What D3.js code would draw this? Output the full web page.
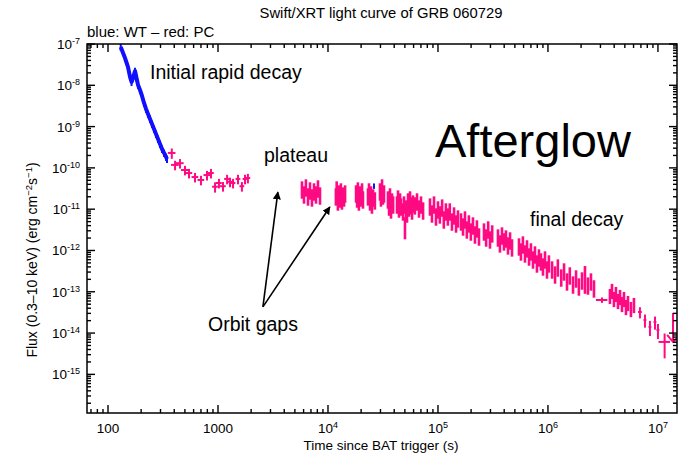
<!DOCTYPE html>
<html><head><meta charset="utf-8">
<script src="https://cdn.jsdelivr.net/npm/d3@7"></script>
<style>body{margin:0;background:#fff}svg{display:block}text{font-family:"Liberation Sans",Arial,Helvetica,sans-serif;fill:#000}</style>
</head><body><svg id="c" width="681" height="455"></svg>
<script>
const titleText = "Swift/XRT light curve of GRB 060729";
const subtitleText = "blue: WT \u2013 red: PC";
const xTickValues = [100, 1000, 1e4, 1e5, 1e6, 1e7];
const xTickBase = ["100", "1000", "10", "10", "10", "10"];
const xTickExp = ["", "", "4", "5", "6", "7"];
const yTickValues = [1e-7, 1e-8, 1e-9, 1e-10, 1e-11, 1e-12, 1e-13, 1e-14, 1e-15];
const yTickExp = ["-7", "-8", "-9", "-10", "-11", "-12", "-13", "-14", "-15"];

// WT mode (blue): time (s), flux (erg cm^-2 s^-1)
const wtTime = [130.5, 142.7, 152.0, 158.5, 163.6, 168.8, 176.0, 181.6, 187.4, 195.4, 203.8, 212.5, 221.6, 231.0, 240.9, 251.2, 261.9, 273.1, 284.8, 297.0, 309.7, 322.9, 336.7, 343.9];
const wtFlux = [8.46e-8, 4.58e-8, 2.77e-8, 1.59e-8, 1.20e-8, 1.50e-8, 2.22e-8, 1.50e-8, 1.02e-8, 7.69e-9, 5.51e-9, 3.73e-9, 2.67e-9, 2.02e-9, 1.53e-9, 1.16e-9, 8.75e-10, 6.62e-10, 5.01e-10, 3.79e-10, 2.87e-10, 2.30e-10, 1.84e-10, 1.64e-10];
const wtLateTime = [26200];
const wtLateFlux = [3.65e-11];

// PC mode (red): [time, flux, relative time error, relative flux error]
const pcPoints = [
  [380,2.3e-10,0.08,0.28],[407,1.18e-10,0.08,0.26],[451,1.3e-10,0.08,0.26],[501,8.9e-11,0.08,0.26],
  [545,7.5e-11,0.07,0.26],[618,6.0e-11,0.07,0.26],[700,5.1e-11,0.07,0.26],[794,6.7e-11,0.07,0.26],
  [863,7.5e-11,0.06,0.26],[940,3.5e-11,0.06,0.28],[1020,4.3e-11,0.06,0.26],[1110,3.6e-11,0.06,0.26],
  [1210,5.4e-11,0.06,0.26],[1285,4.6e-11,0.05,0.26],[1370,4.3e-11,0.05,0.26],[1520,5.4e-11,0.05,0.26],
  [1650,3.6e-11,0.05,0.26],[1760,5.4e-11,0.05,0.26],[1870,5.7e-11,0.05,0.26],
  [5800,3.26e-11,0.01,0.45],[6050,2.47e-11,0.01,0.45],[6300,3.65e-11,0.01,0.45],[6580,2.21e-11,0.01,0.45],[6860,3.08e-11,0.01,0.45],
  [7150,2.09e-11,0.01,0.45],[7460,2.92e-11,0.01,0.45],[7780,2.47e-11,0.01,0.45],[8110,3.45e-11,0.01,0.45],[8460,2.33e-11,0.01,0.45],
  [11800,2.21e-11,0.01,0.45],[12000,3.26e-11,0.01,0.45],[12300,1.67e-11,0.01,0.45],[12600,2.61e-11,0.01,0.45],[12900,1.97e-11,0.01,0.45],
  [13100,2.92e-11,0.01,0.45],[13400,1.77e-11,0.01,0.45],[13700,2.33e-11,0.01,0.45],[14000,2.09e-11,0.01,0.45],[14300,2.61e-11,0.01,0.45],
  [18000,2.61e-11,0.01,0.45],[18400,1.97e-11,0.01,0.45],[18700,3.08e-11,0.01,0.45],[19100,1.67e-11,0.01,0.45],[19500,2.47e-11,0.01,0.45],
  [20000,2.09e-11,0.01,0.45],[20400,2.92e-11,0.01,0.45],[20800,1.87e-11,0.01,0.45],
  [23100,2.21e-11,0.01,0.45],[23600,2.92e-11,0.01,0.45],[24100,1.67e-11,0.01,0.45],[24600,2.47e-11,0.01,0.45],[25100,1.41e-11,0.01,0.45],
  [25700,2.09e-11,0.01,0.45],[26700,1.77e-11,0.01,0.45],
  [29700,2.92e-11,0.01,0.45],[30300,2.09e-11,0.01,0.45],[31000,3.65e-11,0.01,0.45],[31600,2.33e-11,0.01,0.45],[32300,2.61e-11,0.01,0.45],
  [35100,1.87e-11,0.01,0.45],[35900,1.26e-11,0.01,0.45],[36600,2.21e-11,0.01,0.45],[37400,1.07e-11,0.01,0.45],[38200,1.67e-11,0.01,0.45],[39100,1.41e-11,0.01,0.45],
  [42400,1.41e-11,0.01,0.45],[43300,1.97e-11,0.01,0.45],[44200,1.13e-11,0.01,0.45],[45200,1.67e-11,0.01,0.45],[46100,1.26e-11,0.01,0.45],
  [48100,9.57e-12,0.01,0.45],[49100,1.41e-11,0.01,0.45],[50100,4.14e-12,0.01,0.55],[51200,1.13e-11,0.01,0.45],[52300,8.55e-12,0.01,0.45],
  [53400,1.67e-11,0.01,0.45],[54500,1.19e-11,0.01,0.45],[55700,1.87e-11,0.01,0.45],[56900,1.34e-11,0.01,0.45],[58100,1.01e-11,0.01,0.45],[59300,1.49e-11,0.01,0.45],
  [61700,1.34e-11,0.01,0.45],[64500,1.67e-11,0.01,0.45],[67200,1.13e-11,0.01,0.45],[70100,1.41e-11,0.01,0.45],[73200,1.01e-11,0.01,0.45],
  [84600,1.26e-11,0.01,0.45],[88200,8.55e-12,0.01,0.45],[92000,1.41e-11,0.01,0.45],[95900,7.24e-12,0.01,0.45],[100000,1.07e-11,0.01,0.45],
  [104000,8.1e-12,0.01,0.45],[109000,1.19e-11,0.01,0.45],[113000,6.12e-12,0.01,0.45],[118000,9.57e-12,0.01,0.45],
  [123000,7.24e-12,0.01,0.45],[128000,9.57e-12,0.01,0.45],[134000,5.47e-12,0.01,0.45],[140000,7.65e-12,0.01,0.45],[146000,4.9e-12,0.01,0.45],[152000,6.47e-12,0.01,0.45],
  [162000,5.47e-12,0.01,0.45],[169000,4.14e-12,0.01,0.45],[176000,6.12e-12,0.01,0.45],[183000,3.51e-12,0.01,0.45],[191000,4.9e-12,0.01,0.45],
  [199000,3.13e-12,0.01,0.45],[208000,4.38e-12,0.01,0.45],[217000,2.65e-12,0.01,0.45],[226000,3.71e-12,0.01,0.45],[236000,2.37e-12,0.01,0.45],
  [262000,3.13e-12,0.01,0.45],[274000,2.24e-12,0.01,0.45],[286000,3.51e-12,0.01,0.45],[297000,2.01e-12,0.01,0.45],[311000,2.81e-12,0.01,0.45],
  [351000,2.24e-12,0.01,0.45],[366000,1.61e-12,0.01,0.45],[382000,2.51e-12,0.01,0.45],[398000,1.80e-12,0.01,0.45],[415000,2.12e-12,0.01,0.45],
  [433000,1.44e-12,0.01,0.45],[452000,1.90e-12,0.01,0.45],[471000,1.29e-12,0.01,0.45],
  [545000,1.36e-12,0.01,0.45],[568000,1.03e-12,0.01,0.45],[592000,1.52e-12,0.01,0.45],[618000,9.2e-13,0.01,0.45],[645000,1.22e-12,0.01,0.45],
  [673000,7.78e-13,0.01,0.45],[700000,1.03e-12,0.01,0.45],[731000,6.58e-13,0.01,0.45],[762000,8.7e-13,0.01,0.45],[794000,5.27e-13,0.01,0.45],
  [828000,7.36e-13,0.01,0.45],[864000,5.89e-13,0.01,0.45],[901000,4.45e-13,0.01,0.45],[940000,6.58e-13,0.01,0.45],[980000,3.77e-13,0.01,0.45],[1020000,5.27e-13,0.01,0.45],
  [1090000,3.77e-13,0.01,0.45],[1160000,2.85e-13,0.01,0.45],[1230000,4.21e-13,0.01,0.45],[1320000,2.41e-13,0.01,0.45],[1400000,3.37e-13,0.01,0.45],
  [1490000,1.93e-13,0.01,0.45],[1580000,2.70e-13,0.01,0.45],[1690000,1.63e-13,0.01,0.45],[1800000,2.28e-13,0.01,0.45],[1910000,1.46e-13,0.01,0.45],
  [2040000,2.04e-13,0.01,0.45],[2170000,2.55e-13,0.01,0.65],[2310000,1.54e-13,0.01,0.45],[2460000,1.93e-13,0.01,0.45],[2620000,1.31e-13,0.01,0.45],
  [3100000,6.33e-14,0.12,0.15],
  [3660000,8.37e-14,0.02,0.4],[3820000,1.11e-13,0.02,0.4],[3980000,7.08e-14,0.02,0.4],[4150000,9.36e-14,0.02,0.4],[4330000,6.33e-14,0.02,0.4],
  [4520000,7.91e-14,0.02,0.4],[4710000,5.36e-14,0.02,0.4],[4910000,7.08e-14,0.02,0.4],[5120000,4.53e-14,0.02,0.4],[5340000,5.66e-14,0.02,0.4],
  [5680000,4.05e-14,0.02,0.4],[6050000,5.07e-14,0.02,0.4],
  [6860000,3.24e-14,0.04,0.3],[7620000,2.08e-14,0.03,0.35],[8460000,1.41e-14,0.03,0.4],[9400000,1.86e-14,0.03,0.35],[10000000,1.19e-14,0.03,0.4],
  [11500000,6.1e-15,0.12,0.6]
];
// PC upper limit
const ulTime = [13700000];
const ulFlux = [3.07e-14];

const svg = d3.select("#c");
const L = 87, R = 677, T = 44, B = 413;
const x = d3.scaleLog().domain([64.4, 1.49e7]).range([L, R]);
const y = d3.scaleLog().domain([1.16e-16, 1e-7]).range([B, T]);
const BLUE = "#1010ff", PINK = "#ff0a82";

svg.append("defs").append("clipPath").attr("id", "clip")
  .append("rect").attr("x", L).attr("y", T).attr("width", R - L).attr("height", B - T);
const arrowDef = svg.select("defs").append("marker").attr("id", "ah")
  .attr("viewBox", "0 0 10 10").attr("refX", 9).attr("refY", 5)
  .attr("markerWidth", 8).attr("markerHeight", 8).attr("orient", "auto")
  .attr("markerUnits", "userSpaceOnUse");
arrowDef.append("path").attr("d", "M0,0 L10,5 L0,10 z").attr("fill", "#000");

svg.append("text").attr("x", 381).attr("y", 18).attr("text-anchor", "middle")
  .style("font-size", "14.8px").text(titleText);
svg.append("text").attr("x", 87).attr("y", 37).style("font-size", "15px").text(subtitleText);

const g = svg.append("g").attr("clip-path", "url(#clip)");
const pc = g.append("g").attr("stroke", PINK).attr("stroke-width", 2).attr("fill", "none");
pcPoints.forEach(([t, f, rt, rf]) => {
  const sw = rt <= 0.02 ? 2.6 : 2;
  pc.append("line").attr("x1", x(t * (1 - rt))).attr("x2", x(t * (1 + rt))).attr("y1", y(f)).attr("y2", y(f)).attr("stroke-width", 2);
  pc.append("line").attr("x1", x(t)).attr("x2", x(t)).attr("y1", y(f * (1 - rf))).attr("y2", y(f * (1 + rf))).attr("stroke-width", sw);
});
ulTime.forEach((t, i) => {
  const f = ulFlux[i];
  pc.append("line").attr("x1", x(t)).attr("x2", x(t)).attr("y1", y(f)).attr("y2", y(f / 5));
  pc.append("path").attr("d", `M${x(t / 1.13)},${y(f / 3.4)} L${x(t)},${y(f / 5)} L${x(t * 1.18)},${y(f / 3.4)}`);
});
const wtPts = wtTime.map((t, i) => [t, wtFlux[i]]);
g.append("path").datum(wtPts)
  .attr("d", d3.line().x(d => x(d[0])).y(d => y(d[1])))
  .attr("fill", "none").attr("stroke", BLUE).attr("stroke-width", 4).attr("stroke-linejoin", "round");
const wtg = g.append("g").attr("stroke", BLUE).attr("stroke-width", 2);
wtPts.forEach(([t, f]) => {
  wtg.append("line").attr("x1", x(t)).attr("x2", x(t)).attr("y1", y(f * 0.8)).attr("y2", y(f * 1.2));
});
wtLateTime.forEach((t, i) => {
  wtg.append("line").attr("x1", x(t)).attr("x2", x(t)).attr("y1", y(wtLateFlux[i] * 0.85)).attr("y2", y(wtLateFlux[i] * 1.15)).attr("stroke-width", 2);
});

const ax = svg.append("g").attr("stroke", "#000");
ax.append("rect").attr("x", L).attr("y", T).attr("width", R - L).attr("height", B - T)
  .attr("fill", "none").attr("stroke-width", 1.5);
const xd = x.domain(), yd = y.domain();
const xt = [], yt = [];
for (let e = 1; e <= 7; e++) for (let k = 1; k <= 9; k++) { const v = k * Math.pow(10, e); if (v >= xd[0] && v <= xd[1]) xt.push([v, k === 1]); }
for (let e = -17; e <= -7; e++) for (let k = 1; k <= 9; k++) { const v = k * Math.pow(10, e); if (v >= yd[0] * 0.999 && v <= yd[1] * 1.001) yt.push([v, k === 1]); }
xt.forEach(([v, maj]) => {
  const len = maj ? 8 : 4, px = x(v);
  ax.append("line").attr("x1", px).attr("x2", px).attr("y1", B).attr("y2", B - len).attr("stroke-width", 1.4);
  ax.append("line").attr("x1", px).attr("x2", px).attr("y1", T).attr("y2", T + len).attr("stroke-width", 1.4);
});
yt.forEach(([v, maj]) => {
  const len = maj ? 8 : 4, py = y(v);
  ax.append("line").attr("x1", L).attr("x2", L + len).attr("y1", py).attr("y2", py).attr("stroke-width", 1.4);
  ax.append("line").attr("x1", R).attr("x2", R - len).attr("y1", py).attr("y2", py).attr("stroke-width", 1.4);
});

xTickValues.forEach((v, i) => {
  const t = svg.append("text").attr("x", x(v)).attr("y", 433).attr("text-anchor", "middle").style("font-size", "13.5px");
  t.append("tspan").text(xTickBase[i]);
  if (xTickExp[i]) t.append("tspan").attr("dy", -5).style("font-size", "9px").text(xTickExp[i]);
});
yTickValues.forEach((v, i) => {
  const t = svg.append("text").attr("x", 80).attr("y", y(v) + 5).attr("text-anchor", "end").style("font-size", "13.5px");
  t.append("tspan").text("10");
  t.append("tspan").attr("dy", -5).style("font-size", "9px").text(yTickExp[i]);
});

svg.append("text").attr("x", 381).attr("y", 450).attr("text-anchor", "middle").style("font-size", "13.5px")
  .text("Time since BAT trigger (s)");
const yl = svg.append("text").attr("transform", "translate(37,260) rotate(-90)").attr("text-anchor", "middle").style("font-size", "14px");
yl.append("tspan").text("Flux (0.3\u201310 keV) (erg cm");
yl.append("tspan").attr("dy", -5).style("font-size", "9.5px").text("\u22122");
yl.append("tspan").attr("dy", 5).text("s");
yl.append("tspan").attr("dy", -5).style("font-size", "9.5px").text("\u22121");
yl.append("tspan").attr("dy", 5).text(")");

const ann = [["Initial rapid decay", 150, 79], ["plateau", 264, 162], ["final decay", 530, 226], ["Orbit gaps", 208, 331]];
ann.forEach(([s, px, py]) => svg.append("text").attr("x", px).attr("y", py).style("font-size", "19.5px").text(s));
svg.append("text").attr("x", 435).attr("y", 157).style("font-size", "47px").text("Afterglow");

const arrowBase = [2560, 4.3e-14];
const arrowHeads = [[3500, 2.6e-11], [10400, 1.13e-11]];
arrowHeads.forEach(h => {
  svg.append("line").attr("x1", x(arrowBase[0])).attr("y1", y(arrowBase[1]))
    .attr("x2", x(h[0])).attr("y2", y(h[1])).attr("stroke", "#000").attr("stroke-width", 1.6)
    .attr("marker-end", "url(#ah)");
});
</script></body></html>
